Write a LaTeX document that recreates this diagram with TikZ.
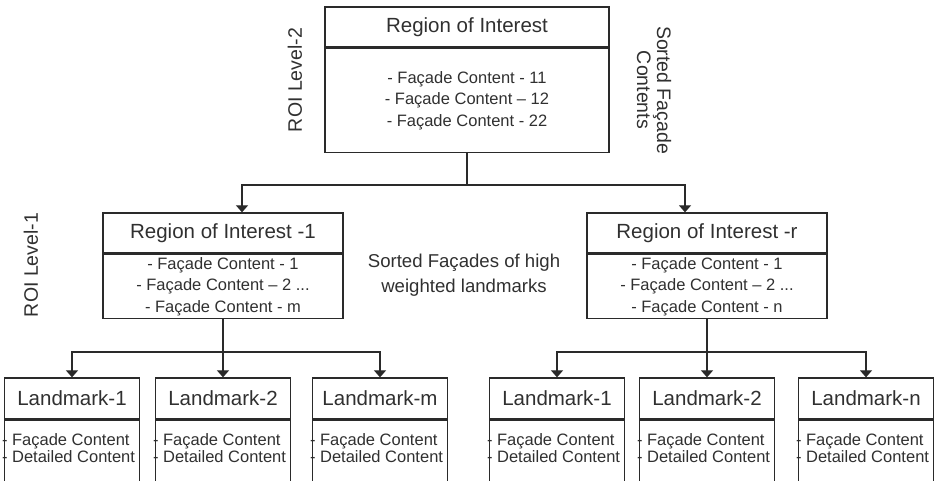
\documentclass[tikz,border=0pt]{standalone}
\usepackage{fontspec}
\setmainfont{Liberation Sans}
\usetikzlibrary{positioning,arrows.meta}

\definecolor{edge}{HTML}{2A2A2A}
\definecolor{ink}{HTML}{303030}

\tikzset{
  head/.style={draw=edge, line width=1.3pt, minimum height=40pt, inner sep=0pt,
    font=\fontsize{20.5}{24}\selectfont},
  body/.style={draw=edge, line width=1.3pt, inner sep=0pt, align=center,
    font=\fontsize{16.5}{21.5}\selectfont},
  lbody/.style={draw=edge, line width=1.3pt, inner sep=0pt, minimum width=135pt, minimum height=90pt},
  ltext/.style={inner sep=0pt, align=left, font=\fontsize{16.5}{15}\selectfont},
  tag/.style={inner sep=0pt, align=center, font=\fontsize{19.5}{20}\selectfont},
  arr/.style={draw=edge, line width=1.2pt, -{Triangle[width=12pt,length=7pt]}},
}

\begin{document}
\begin{tikzpicture}[x=1pt,y=-1pt,text=ink]
\useasboundingbox (0,0) rectangle (936,481);

% level 2
\node[head, minimum width=284pt] (roi) at (467,27) {Region of Interest};
\node[body, minimum width=284pt, minimum height=104pt, below=0pt of roi] (roib)
  {- Façade Content - 11\\- Façade Content – 12\\- Façade Content - 22};

% level 1
\node[head, minimum width=240pt] (roi1) at (223,233) {Region of Interest -1};
\node[body, minimum width=240pt, minimum height=64pt, below=0pt of roi1] (roi1b)
  {- Façade Content - 1\\- Façade Content – 2 ...\\- Façade Content - m};
\node[head, minimum width=240pt] (roir) at (707,233) {Region of Interest -r};
\node[body, minimum width=240pt, minimum height=64pt, below=0pt of roir] (roirb)
  {- Façade Content - 1\\- Façade Content – 2 ...\\- Façade Content - n};

% landmarks
\foreach \x/\n/\t in {72/la1/Landmark-1, 223/la2/Landmark-2, 380/lam/Landmark-m,
                      557/lb1/Landmark-1, 707/lb2/Landmark-2, 866/lbn/Landmark-n} {
  \node[head, minimum width=135pt, minimum height=41pt] (\n) at (\x,398.5) {\t};
  \node[ltext, anchor=north west] (\n-text) at ([xshift=-2pt,yshift=-14pt]\n.south west)
    {- Façade Content\\- Detailed Content};
  \node[lbody, below=0pt of \n] (\n-body) {};
}

% connectors
\draw[arr] (roib.south) -- ++(0,32) -| ([xshift=19pt]roi1.north);
\draw[arr] (roib.south) -- ++(0,32) -| ([xshift=-22pt]roir.north);
\foreach \t in {la1,la2,lam}
  \draw[arr] (roi1b.south) -- ++(0,33) -| (\t.north);
\foreach \t in {lb1,lb2,lbn}
  \draw[arr] (roirb.south) -- ++(0,33) -| (\t.north);

% side labels
\node[tag, rotate=90] (lvl2) at (295,80) {ROI Level-2};
\node[tag, rotate=-90] (sortedroi) at (654,90) {Sorted Façade\\Contents};
\node[tag, rotate=90] (lvl1) at (31,265) {ROI Level-1};
\node[tag, font=\fontsize{18.6}{25}\selectfont] (sortedlm) at (464,275)
  {Sorted Façades of high\\weighted landmarks};

\end{tikzpicture}
\end{document}
